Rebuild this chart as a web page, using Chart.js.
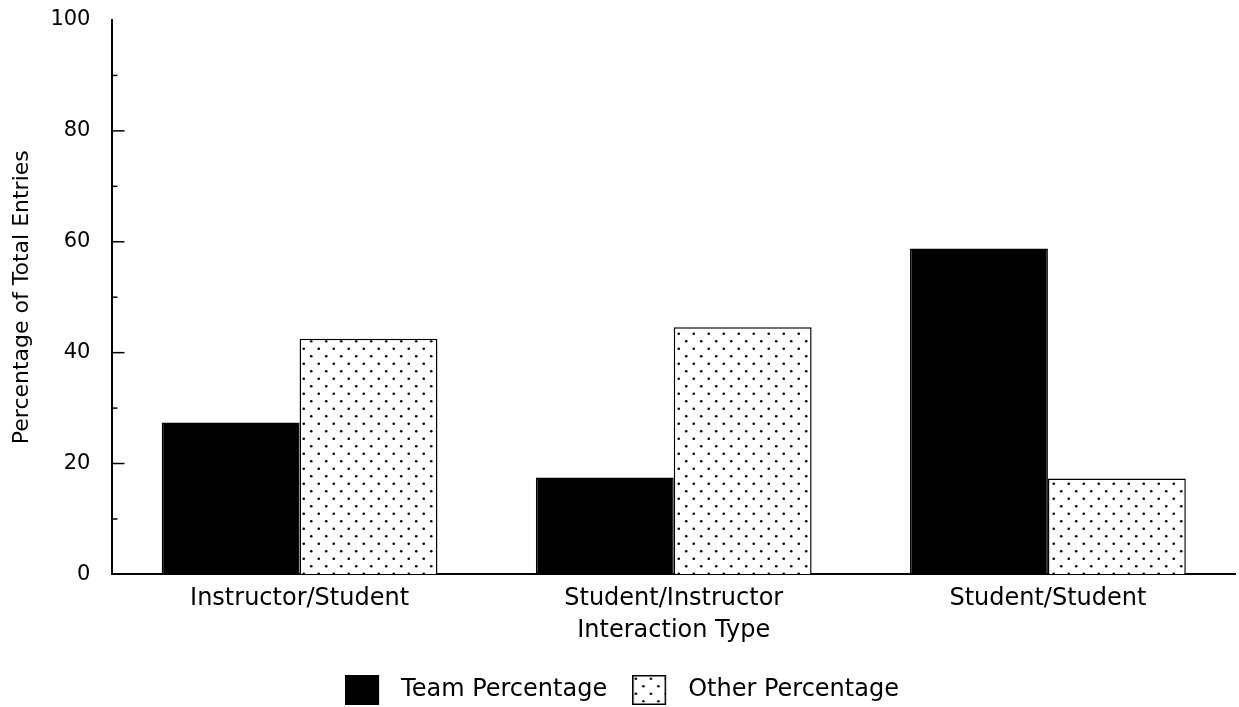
<!DOCTYPE html>
<html>
<head>
<meta charset="utf-8">
<script src="https://cdn.jsdelivr.net/npm/chart.js@4/dist/chart.umd.min.js"></script>
<style>
    body { margin: 0; background: #fff; }
</style>
</head>
<body>
<canvas id="chart" width="1239" height="707"></canvas>
<script>
const categories = ['Instructor/Student', 'Student/Instructor', 'Student/Student']
const teamPercentage = [27.4, 17.5, 58.8]
const otherPercentage = [42.5, 44.6, 17.3]
const minorTicks = [10, 20, 30, 40, 50, 60, 70, 80, 90]

function dotTile() {
    let tile = document.createElement('canvas')
    tile.width = 15
    tile.height = 15
    let g = tile.getContext('2d')
    g.fillStyle = '#fff'
    g.fillRect(0, 0, 15, 15)
    g.fillStyle = '#000'
    ;[[3.75, 3.75], [11.25, 11.25]].forEach(([x, y]) => {
        g.beginPath()
        g.arc(x, y, 1.3, 0, Math.PI * 2)
        g.fill()
    })
    return tile
}

// legend swatch with some empty room on the right, so the text sits further off
function swatch(fill) {
    let c = document.createElement('canvas')
    c.width = 44
    c.height = 30
    let g = c.getContext('2d')
    g.fillStyle = fill
    g.fillRect(0, 0, 34, 30)
    g.strokeStyle = '#000'
    g.lineWidth = 1.5
    g.strokeRect(0.75, 0.75, 32.5, 28.5)
    return c
}

// tick marks on this chart point into the plot, so draw them ourselves
const innerTicks = {
    id: 'innerTicks',
    afterDatasetsDraw(chart) {
        let ctx = chart.ctx
        let yScale = chart.scales.y
        let left = chart.chartArea.left
        ctx.save()
        ctx.strokeStyle = '#000'
        ctx.lineWidth = 1.5
        minorTicks.forEach(v => {
            let py = yScale.getPixelForValue(v)
            let len = v % 20 === 0 ? 12 : 5
            ctx.beginPath()
            ctx.moveTo(left, py)
            ctx.lineTo(left + len, py)
            ctx.stroke()
        })
        ctx.restore()
    }
}

Chart.defaults.color = '#000'
Chart.defaults.font.family = '"DejaVu Sans", sans-serif'

let ctx = document.getElementById('chart').getContext('2d')
let pattern = ctx.createPattern(dotTile(), 'repeat')

new Chart(ctx, {
    type: 'bar',
    data: {
        labels: categories,
        datasets: [
            {
                label: 'Team Percentage',
                data: teamPercentage,
                backgroundColor: '#000',
                borderColor: '#000',
                borderWidth: 1.5,
                pointStyle: swatch('#000')
            },
            {
                label: 'Other Percentage',
                data: otherPercentage,
                backgroundColor: pattern,
                borderColor: '#000',
                borderWidth: 1.5,
                pointStyle: swatch(pattern)
            }
        ]
    },
    options: {
        responsive: false,
        animation: false,
        categoryPercentage: 0.737,
        barPercentage: 1,
        layout: {
            padding: { left: 9, right: 4, top: 20, bottom: -5 }
        },
        scales: {
            x: {
                grid: { display: false, drawTicks: false },
                border: { color: '#000', width: 2 },
                ticks: { font: { size: 24 }, padding: 10, maxRotation: 0 },
                title: {
                    display: true,
                    text: 'Interaction Type',
                    font: { size: 24 },
                    padding: { top: -7, bottom: 8 }
                }
            },
            y: {
                min: 0,
                max: 100,
                // outward ticks kept invisible, they only push the labels off the axis
                grid: { drawOnChartArea: false, drawTicks: true, tickLength: 15, tickColor: 'rgba(0,0,0,0)' },
                border: { color: '#000', width: 2 },
                ticks: { stepSize: 20, font: { size: 21 }, padding: 7 },
                title: {
                    display: true,
                    text: 'Percentage of Total Entries',
                    font: { size: 22 },
                    padding: { top: 0, bottom: 8 }
                }
            }
        },
        plugins: {
            legend: {
                position: 'bottom',
                labels: {
                    usePointStyle: true,
                    pointStyleWidth: 44,
                    boxHeight: 24,
                    padding: 25,
                    font: { size: 24 }
                }
            },
            tooltip: { enabled: false }
        }
    },
    plugins: [innerTicks]
})
</script>
</body>
</html>
